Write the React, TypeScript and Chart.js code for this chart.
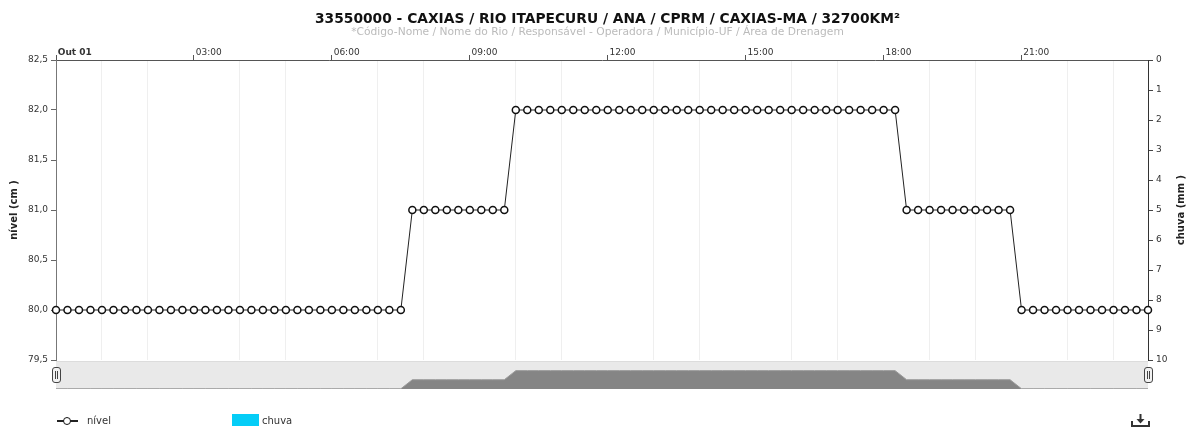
import { useEffect, useRef } from 'react';
import { Chart, registerables } from 'chart.js';

Chart.register(...registerables);

const FONT = '"DejaVu Sans", Verdana, sans-serif';

const chartTitle = '33550000 - CAXIAS / RIO ITAPECURU / ANA / CPRM / CAXIAS-MA / 32700KM²';
const chartSubtitle = '*Código-Nome / Nome do Rio / Responsável - Operadora / Município-UF / Área de Drenagem';
const leftAxisTitle = 'nível (cm )';
const rightAxisTitle = 'chuva (mm )';
const nivelLabel = 'nível';
const chuvaLabel = 'chuva';

const timeLabels = [
  '00:00', '00:15', '00:30', '00:45', '01:00', '01:15', '01:30', '01:45',
  '02:00', '02:15', '02:30', '02:45', '03:00', '03:15', '03:30', '03:45',
  '04:00', '04:15', '04:30', '04:45', '05:00', '05:15', '05:30', '05:45',
  '06:00', '06:15', '06:30', '06:45', '07:00', '07:15', '07:30', '07:45',
  '08:00', '08:15', '08:30', '08:45', '09:00', '09:15', '09:30', '09:45',
  '10:00', '10:15', '10:30', '10:45', '11:00', '11:15', '11:30', '11:45',
  '12:00', '12:15', '12:30', '12:45', '13:00', '13:15', '13:30', '13:45',
  '14:00', '14:15', '14:30', '14:45', '15:00', '15:15', '15:30', '15:45',
  '16:00', '16:15', '16:30', '16:45', '17:00', '17:15', '17:30', '17:45',
  '18:00', '18:15', '18:30', '18:45', '19:00', '19:15', '19:30', '19:45',
  '20:00', '20:15', '20:30', '20:45', '21:00', '21:15', '21:30', '21:45',
  '22:00', '22:15', '22:30', '22:45', '23:00', '23:15', '23:30', '23:45',
];

const nivelValues = [
  80.0, 80.0, 80.0, 80.0, 80.0, 80.0, 80.0, 80.0,
  80.0, 80.0, 80.0, 80.0, 80.0, 80.0, 80.0, 80.0,
  80.0, 80.0, 80.0, 80.0, 80.0, 80.0, 80.0, 80.0,
  80.0, 80.0, 80.0, 80.0, 80.0, 80.0, 80.0, 81.0,
  81.0, 81.0, 81.0, 81.0, 81.0, 81.0, 81.0, 81.0,
  82.0, 82.0, 82.0, 82.0, 82.0, 82.0, 82.0, 82.0,
  82.0, 82.0, 82.0, 82.0, 82.0, 82.0, 82.0, 82.0,
  82.0, 82.0, 82.0, 82.0, 82.0, 82.0, 82.0, 82.0,
  82.0, 82.0, 82.0, 82.0, 82.0, 82.0, 82.0, 82.0,
  82.0, 82.0, 81.0, 81.0, 81.0, 81.0, 81.0, 81.0,
  81.0, 81.0, 81.0, 81.0, 80.0, 80.0, 80.0, 80.0,
  80.0, 80.0, 80.0, 80.0, 80.0, 80.0, 80.0, 80.0,
];

const chuvaValues = [
  0, 0, 0, 0, 0, 0, 0, 0, 0, 0, 0, 0, 0, 0, 0, 0,
  0, 0, 0, 0, 0, 0, 0, 0, 0, 0, 0, 0, 0, 0, 0, 0,
  0, 0, 0, 0, 0, 0, 0, 0, 0, 0, 0, 0, 0, 0, 0, 0,
  0, 0, 0, 0, 0, 0, 0, 0, 0, 0, 0, 0, 0, 0, 0, 0,
  0, 0, 0, 0, 0, 0, 0, 0, 0, 0, 0, 0, 0, 0, 0, 0,
  0, 0, 0, 0, 0, 0, 0, 0, 0, 0, 0, 0, 0, 0, 0, 0,
];

const majorTickTimes = ['00:00', '03:00', '06:00', '09:00', '12:00', '15:00', '18:00', '21:00'];
const majorTickLabels = ['Out 01', '03:00', '06:00', '09:00', '12:00', '15:00', '18:00', '21:00'];
const nivelTicks = [79.5, 80.0, 80.5, 81.0, 81.5, 82.0, 82.5];
const chuvaTicks = [0, 1, 2, 3, 4, 5, 6, 7, 8, 9, 10];

function toMin(s: string): number {
  const [h, m] = s.split(':').map(Number);
  return h * 60 + m;
}

const xs = timeLabels.map(toMin);
const xMin = xs[0];
const xMax = xs[xs.length - 1];
const hourTicks = timeLabels.filter((t) => t.endsWith(':00')).map(toMin);
const majorMinutes = majorTickTimes.map(toMin);
const nivelData = xs.map((x, i) => ({ x, y: nivelValues[i] }));
const chuvaData = xs.map((x, i) => ({ x, y: chuvaValues[i] }));

const axisTitlesPlugin = {
  id: 'axisTitles',
  afterDraw(chart: any) {
    const { ctx, chartArea } = chart;
    const cy = (chartArea.top + chartArea.bottom) / 2;
    ctx.save();
    ctx.font = `bold 10px ${FONT}`;
    ctx.fillStyle = '#222';
    ctx.textAlign = 'center';
    ctx.textBaseline = 'middle';
    const items: [number, string][] = [
      [14, leftAxisTitle],
      [chart.width - 14, rightAxisTitle],
    ];
    items.forEach(([x, t]) => {
      ctx.save();
      ctx.translate(x, cy);
      ctx.rotate(-Math.PI / 2);
      ctx.fillText(t, 0, 0);
      ctx.restore();
    });
    ctx.restore();
  },
};

function Handle({ left }: { left: number }) {
  return (
    <div
      style={{
        position: 'absolute',
        left,
        top: 367,
        width: 7,
        height: 14,
        background: '#f2f2f2',
        border: '1px solid #444',
        borderRadius: 3,
      }}
    >
      <div style={{ position: 'absolute', left: 2, top: 3, width: 1, height: 8, background: '#444' }} />
      <div style={{ position: 'absolute', left: 4, top: 3, width: 1, height: 8, background: '#444' }} />
    </div>
  );
}

export default function App() {
  const mainRef = useRef<HTMLCanvasElement | null>(null);
  const navRef = useRef<HTMLCanvasElement | null>(null);

  useEffect(() => {
    if (!mainRef.current || !navRef.current) return;

    const main = new Chart(mainRef.current, {
      type: 'line',
      data: {
        datasets: [
          {
            type: 'line',
            label: nivelLabel,
            data: nivelData,
            yAxisID: 'y',
            borderColor: '#222',
            borderWidth: 1,
            pointRadius: 3.5,
            pointBorderWidth: 1.5,
            pointBackgroundColor: '#fff',
            pointBorderColor: '#111',
            tension: 0,
            clip: false as any,
            order: 1,
          } as any,
          {
            type: 'bar',
            label: chuvaLabel,
            data: chuvaData,
            yAxisID: 'y1',
            backgroundColor: '#05cdf7',
            borderWidth: 0,
            inflateAmount: 0,
            barThickness: 8,
            order: 2,
          } as any,
        ],
      },
      options: {
        animation: false,
        responsive: false,
        maintainAspectRatio: false,
        layout: { padding: { left: 0, right: 0, top: 0, bottom: 70 } },
        plugins: {
          legend: { display: false },
          tooltip: { enabled: false },
          title: { display: false },
        },
        scales: {
          x: {
            type: 'linear',
            position: 'top',
            min: xMin,
            max: xMax,
            offset: false,
            afterBuildTicks: (s: any) => {
              s.ticks = hourTicks.map((v) => ({ value: v }));
            },
            afterFit: (s: any) => {
              s.height = 60;
            },
            grid: {
              offset: false,
              drawOnChartArea: true,
              color: (c: any) =>
                c.tick && majorMinutes.indexOf(c.tick.value) < 0 ? '#efefef' : 'rgba(0,0,0,0)',
              tickColor: (c: any) =>
                c.tick && majorMinutes.indexOf(c.tick.value) >= 0 ? '#555' : 'rgba(0,0,0,0)',
              tickLength: 5,
              lineWidth: 1,
            },
            border: { color: '#555', width: 1 },
            ticks: {
              autoSkip: false,
              maxRotation: 0,
              minRotation: 0,
              align: 'start',
              padding: -3,
              color: '#333',
              font: (c: any) => ({
                family: FONT,
                size: 9,
                weight: c.tick && c.tick.value === majorMinutes[0] ? 'bold' : 'normal',
              }),
              callback: (v: any) => {
                const i = majorMinutes.indexOf(Number(v));
                return i >= 0 ? '\u2009' + majorTickLabels[i] : '';
              },
            },
          } as any,
          y: {
            type: 'linear',
            position: 'left',
            min: nivelTicks[0],
            max: nivelTicks[nivelTicks.length - 1],
            afterBuildTicks: (s: any) => {
              s.ticks = nivelTicks.map((v) => ({ value: v }));
            },
            afterFit: (s: any) => {
              s.width = 56;
            },
            grid: { drawOnChartArea: false, tickLength: 5, tickColor: '#666' },
            border: { color: '#777', width: 1 },
            ticks: {
              padding: 3,
              color: '#333',
              font: { family: FONT, size: 9 },
              callback: (v: any) => Number(v).toFixed(1).replace('.', ','),
            },
          } as any,
          y1: {
            type: 'linear',
            position: 'right',
            min: chuvaTicks[0],
            max: chuvaTicks[chuvaTicks.length - 1],
            reverse: true,
            afterBuildTicks: (s: any) => {
              s.ticks = chuvaTicks.map((v) => ({ value: v }));
            },
            afterFit: (s: any) => {
              s.width = 47;
            },
            grid: { drawOnChartArea: false, tickLength: 5, tickColor: '#444' },
            border: { color: '#333', width: 1 },
            ticks: {
              padding: 3,
              color: '#333',
              font: { family: FONT, size: 9 },
              callback: (v: any) => String(v),
            },
          } as any,
        },
      },
      plugins: [axisTitlesPlugin],
    });

    const nav = new Chart(navRef.current, {
      type: 'line',
      data: {
        datasets: [
          {
            data: nivelData,
            borderColor: '#9a9a9a',
            borderWidth: 1,
            backgroundColor: '#858585',
            fill: 'start',
            pointRadius: 0,
            tension: 0,
          } as any,
        ],
      },
      options: {
        animation: false,
        responsive: false,
        maintainAspectRatio: false,
        layout: { padding: 0 },
        plugins: { legend: { display: false }, tooltip: { enabled: false } },
        scales: {
          x: { type: 'linear', display: false, min: xMin, max: xMax },
          y: { type: 'linear', display: false, min: 79.98, max: 82.95 },
        },
      },
    });

    return () => {
      main.destroy();
      nav.destroy();
    };
  }, []);

  return (
    <div style={{ position: 'absolute', left: 0, top: 0, width: 1195, height: 430, background: '#fff', fontFamily: FONT }}>
      <canvas ref={mainRef} width={1195} height={430} style={{ position: 'absolute', left: 0, top: 0, width: 1195, height: 430 }} />
      <div style={{ position: 'absolute', left: 10, top: 10, width: 1195, textAlign: 'center', fontWeight: 'bold', fontSize: 13.8, lineHeight: '16px', color: '#111' }}>
        {chartTitle}
      </div>
      <div style={{ position: 'absolute', left: 0, top: 26, width: 1195, textAlign: 'center', fontSize: 10.7, lineHeight: '12px', color: '#bbb' }}>
        {chartSubtitle}
      </div>
      <div style={{ position: 'absolute', left: 56, top: 361, width: 1092, height: 28, background: '#e9e9e9', borderTop: '1px solid #dcdcdc', boxSizing: 'border-box' }} />
      <canvas ref={navRef} width={1092} height={27} style={{ position: 'absolute', left: 56, top: 362, width: 1092, height: 27 }} />
      <Handle left={52} />
      <Handle left={1144} />
      <div style={{ position: 'absolute', left: 57, top: 420, width: 21, height: 1.5, background: '#222' }} />
      <div style={{ position: 'absolute', left: 63, top: 417, width: 6, height: 6, borderRadius: '50%', background: '#fff', border: '1.5px solid #111' }} />
      <div style={{ position: 'absolute', left: 87, top: 414, fontSize: 10, lineHeight: '14px', color: '#333' }}>{nivelLabel}</div>
      <div style={{ position: 'absolute', left: 232, top: 414, width: 27, height: 12, background: '#05cdf7' }} />
      <div style={{ position: 'absolute', left: 262, top: 414, fontSize: 10, lineHeight: '14px', color: '#333' }}>{chuvaLabel}</div>
      <svg style={{ position: 'absolute', left: 1131, top: 413 }} width={19} height={15} viewBox="0 0 19 15">
        <path d="M1 8 V13 H18 V8" fill="none" stroke="#333" strokeWidth={2} />
        <path d="M9.5 1 V8" stroke="#333" strokeWidth={2} />
        <path d="M5.5 6 L9.5 10.5 L13.5 6 Z" fill="#333" />
      </svg>
    </div>
  );
}
